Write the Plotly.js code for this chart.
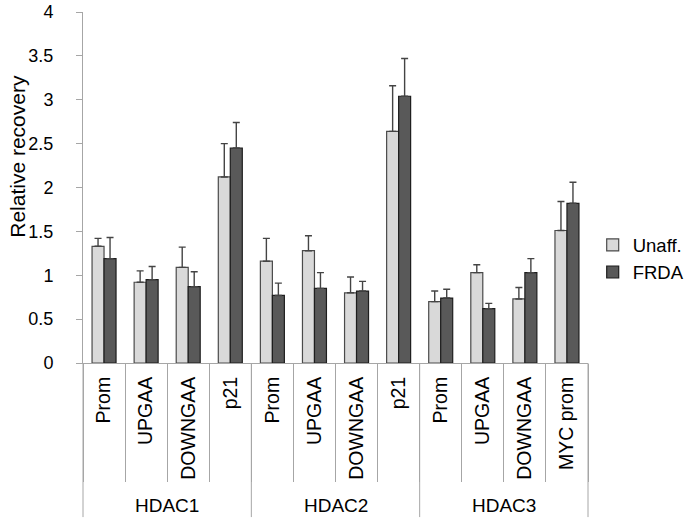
<!DOCTYPE html>
<html>
<head>
<meta charset="utf-8">
<script src="https://cdn.plot.ly/plotly-3.0.1.min.js"></script>
<style>html,body{margin:0;padding:0;background:#fff;}#chart{width:686px;height:522px;}</style>
</head>
<body>
<div id="chart"></div>
<script>
// ---- data ----
var groups = ["HDAC1","HDAC1","HDAC1","HDAC1","HDAC2","HDAC2","HDAC2","HDAC2","HDAC3","HDAC3","HDAC3","HDAC3"];
var sites = ["Prom","UPGAA","DOWNGAA","p21","Prom","UPGAA","DOWNGAA","p21","Prom","UPGAA","DOWNGAA","MYC prom"];
var groupNames = ["HDAC1","HDAC2","HDAC3"];
var unaffVals = [1.33, 0.92, 1.09, 2.12, 1.16, 1.28, 0.80, 2.64, 0.70, 1.03, 0.73, 1.51];
var unaffErr  = [0.09, 0.13, 0.23, 0.38, 0.26, 0.17, 0.18, 0.52, 0.12, 0.09, 0.13, 0.33];
var frdaVals  = [1.19, 0.95, 0.87, 2.45, 0.77, 0.85, 0.82, 3.04, 0.74, 0.62, 1.03, 1.82];
var frdaErr   = [0.24, 0.15, 0.17, 0.29, 0.14, 0.18, 0.11, 0.43, 0.10, 0.06, 0.16, 0.24];
var yTitle = "Relative recovery";

var cats = groups.map(function(g,i){ return g + "|" + sites[i]; });
var zeros = cats.map(function(){ return 0; });
var FONT = "Liberation Sans, Arial, sans-serif";
var AX = "#a6a6a6";

var traces = [
  {type:"bar", name:"Unaff.", x:cats, y:unaffVals,
   marker:{color:"#d9d9d9", line:{color:"#4a4a4a", width:1.2}},
   error_y:{type:"data", symmetric:false, array:unaffErr, arrayminus:zeros, color:"#444444", thickness:1.4, width:3.5}},
  {type:"bar", name:"FRDA", x:cats, y:frdaVals,
   marker:{color:"#595959", line:{color:"#1e1e1e", width:1.2}},
   error_y:{type:"data", symmetric:false, array:frdaErr, arrayminus:zeros, color:"#444444", thickness:1.4, width:3.5}}
];

var nCats = cats.length;
var annotations = groupNames.map(function(g){
  var idx = [];
  groups.forEach(function(gg,i){ if(gg===g) idx.push(i); });
  return {xref:"x", yref:"paper", x:(idx[0]+idx[idx.length-1])/2, y:-0.407,
          text:g, showarrow:false, xanchor:"center", yanchor:"middle",
          font:{family:FONT, size:19, color:"#000"}};
});
annotations.push({xref:"paper", yref:"paper", x:-0.129, y:0.59, text:yTitle, textangle:-90,
  showarrow:false, xanchor:"center", yanchor:"middle", font:{family:FONT, size:21, color:"#000"}});

var shapes = [];
var bounds = [0];
groupNames.forEach(function(g){
  var c = groups.filter(function(gg){return gg===g;}).length;
  bounds.push(bounds[bounds.length-1] + c);
});
bounds.forEach(function(b){
  shapes.push({type:"line", xref:"paper", yref:"paper", x0:b/nCats, x1:b/nCats, y0:0, y1:-0.439,
               line:{color:AX, width:1}});
});

var layout = {
  width:686, height:522,
  margin:{l:83, r:98, t:12, b:159},
  paper_bgcolor:"#fff", plot_bgcolor:"#fff",
  font:{family:FONT, size:18, color:"#000"},
  barmode:"group", bargap:0.43, bargroupgap:0,
  showlegend:true,
  legend:{xref:"container", yref:"container", x:0.864, xanchor:"left", y:0.504, yanchor:"middle",
          font:{family:FONT, size:18.5, color:"#000"},
          bgcolor:"rgba(0,0,0,0)", tracegroupgap:0},
  xaxis:{type:"category", tickmode:"array", tickvals:cats, ticktext:sites,
         tickangle:-90, ticks:"outside", tickson:"boundaries", ticklen:118, tickcolor:AX, tickwidth:1,
         ticklabelstandoff:5,
         showline:true, linecolor:AX, linewidth:1, showgrid:false, zeroline:false,
         tickfont:{family:FONT, size:19.5, color:"#000"}, automargin:false, fixedrange:true},
  yaxis:{range:[0,4], dtick:0.5, tick0:0, ticks:"outside", ticklen:6, tickcolor:AX, tickwidth:1,
         ticklabelstandoff:19,
         showline:true, linecolor:AX, linewidth:1, showgrid:false, zeroline:false,
         tickfont:{family:FONT, size:18, color:"#000"},
         automargin:false, fixedrange:true},
  annotations:annotations,
  shapes:shapes
};

Plotly.newPlot("chart", traces, layout, {displayModeBar:false, staticPlot:true});
</script>
</body>
</html>
